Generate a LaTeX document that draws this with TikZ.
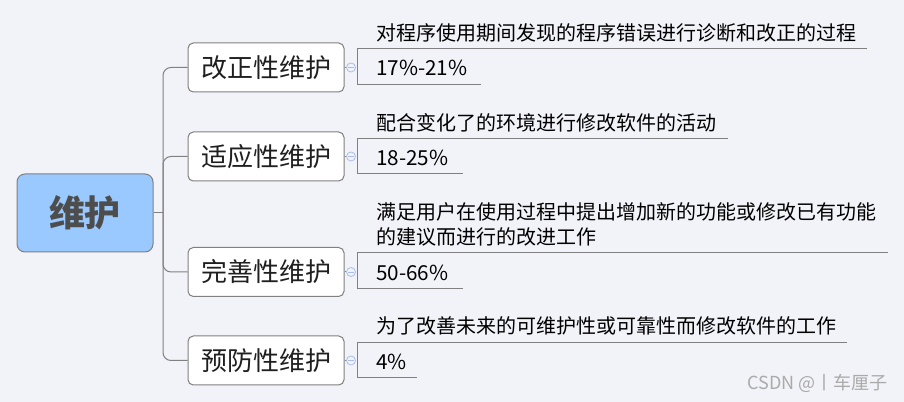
\documentclass[tikz,border=0pt]{standalone}
\usepackage{fontspec}
\setmainfont{Noto Sans CJK SC}
\definecolor{bgc}{RGB}{242,243,248}
\definecolor{linec}{RGB}{128,128,128}
\definecolor{rootc}{RGB}{153,201,255}
\definecolor{roottext}{RGB}{77,77,77}
\definecolor{circc}{RGB}{170,190,235}
\definecolor{wmc}{RGB}{170,170,170}
\begin{document}
\begin{tikzpicture}[x=0.75pt,y=-0.75pt,
  root/.style={draw=linec, line width=0.75pt, fill=rootc, rounded corners=6pt,
    minimum width=102pt, minimum height=58.5pt, inner sep=0pt,
    font=\fontsize{27}{30}\selectfont\bfseries, text=roottext},
  branch/.style={draw=linec, line width=0.75pt, fill=white, rounded corners=4pt,
    minimum width=117pt, minimum height=36.75pt, inner sep=0pt,
    font=\fontsize{19.5}{22}\selectfont, text=black!88},
  desc/.style={anchor=west, inner sep=0pt, align=left,
    font=\fontsize{15}{18.75}\selectfont, text=black},
  pct/.style={anchor=west, inner sep=0pt, font=\fontsize{15.5}{18}\selectfont, text=black},
  fold/.style={circle, draw=circc, line width=0.6pt, fill=bgc, minimum size=6.75pt, inner sep=0pt},
  conn/.style={draw=linec, line width=0.75pt},
  brk/.style={draw=linec, line width=0.75pt}
]
\fill[bgc] (0,0) rectangle (904,402);
\useasboundingbox (0,0) rectangle (904,402);

% root
\node[root] (root) at (85,213) {维护};
\coordinate (j) at (163,213);

% branches
\node[branch] (b1) at (266,67.5) {改正性维护};
\node[branch] (b2) at (266,156.5) {适应性维护};
\node[branch] (b3) at (266,272) {完善性维护};
\node[branch] (b4) at (266,360.5) {预防性维护};

\draw[conn] (root.east) -- (j);
\foreach \b in {b1,b2,b3,b4}{
  \draw[conn, rounded corners=6pt] (j) |- (\b.west);
}

% fold markers
\node[fold] (o1) at (351,67.5) {};
\node[fold] (o2) at (351,156.5) {};
\node[fold] (o3) at (351,272) {};
\node[fold] (o4) at (351,360.5) {};
\foreach \i in {1,2,3,4}{
  \draw[conn] (b\i.east) -- (o\i.west);
  \draw[circc, line width=0.6pt] ([xshift=-2pt]o\i.center) -- ([xshift=2pt]o\i.center);
}

% brackets
\draw[brk] (867,49) -- (357,49) -- (357,85) -- (481,85);
\draw[brk] (728,139) -- (357,139) -- (357,174) -- (463,174);
\draw[brk] (888,253) -- (357,253) -- (357,289) -- (463,289);
\draw[brk] (847,343) -- (357,343) -- (357,378) -- (417,378);

% descriptions
\node[desc] (d1) at (376,33) {对程序使用期间发现的程序错误进行诊断和改正的过程};
\node[desc] (d2) at (376,123) {配合变化了的环境进行修改软件的活动};
\node[desc] (d3) at (376,224.5) {满足用户在使用过程中提出增加新的功能或修改已有功能\\的建议而进行的改进工作};
\node[desc] (d4) at (376,326) {为了改善未来的可维护性或可靠性而修改软件的工作};

% percentages
\node[pct] (p1) at (376,68) {17\%-21\%};
\node[pct] (p2) at (376,158) {18-25\%};
\node[pct] (p3) at (376,273) {50-66\%};
\node[pct] (p4) at (376,362) {4\%};

% watermark
\node[anchor=east, inner sep=0pt, text=wmc, font=\fontsize{13.5}{16}\selectfont] (wm) at (888,383) {CSDN @丨车厘子};
\end{tikzpicture}
\end{document}
